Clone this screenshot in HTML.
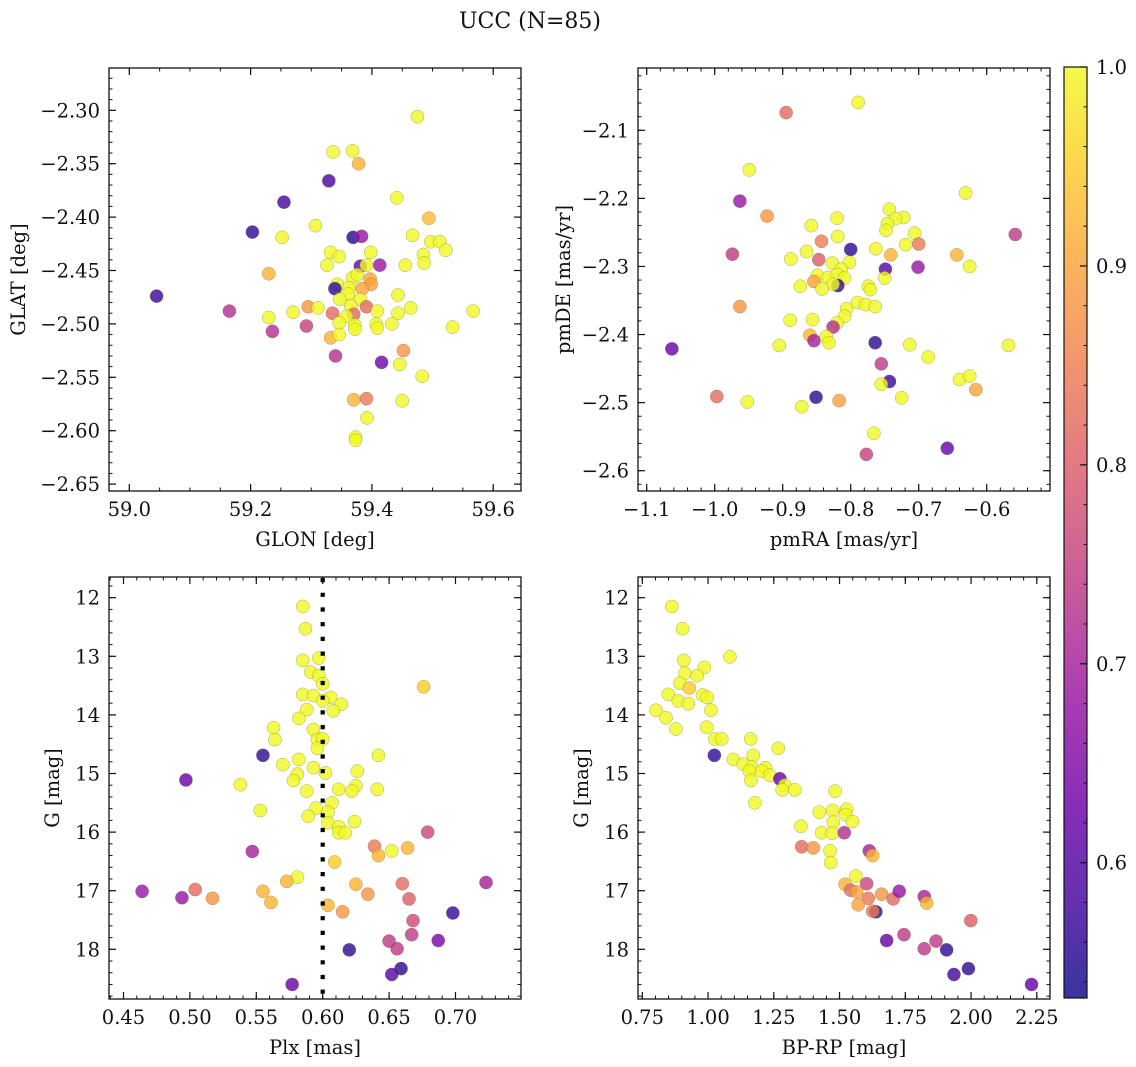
<!DOCTYPE html>
<html><head><meta charset="utf-8">
<style>
html,body{margin:0;padding:0;background:#fff;}
svg{display:block;font-family:"DejaVu Serif","Liberation Serif",serif;}
</style></head>
<body>
<svg id="fig" width="1136" height="1067" viewBox="0 0 1136 1067" xmlns="http://www.w3.org/2000/svg">
<defs>
<linearGradient id="plasmaGrad" x1="0" y1="1" x2="0" y2="0"></linearGradient>
</defs>
<text x="530" y="28" text-anchor="middle" font-size="22" fill="#111">UCC (N=85)</text>
</svg>
<script>
// ---- Panel 1: GLON vs GLAT ----
const p1Glon = [59.475,59.336,59.368,59.378,59.329,59.255,59.441,59.494,59.203,59.307,59.252,59.369,59.383,59.467,59.497,59.512,59.522,59.332,59.346,59.398,59.485,59.486,59.326,59.381,59.391,59.413,59.455,59.230,59.045,59.165,59.343,59.339,59.368,59.376,59.397,59.399,59.362,59.384,59.361,59.347,59.381,59.443,59.230,59.270,59.295,59.311,59.335,59.365,59.391,59.370,59.358,59.409,59.464,59.443,59.567,59.236,59.292,59.346,59.372,59.407,59.409,59.433,59.533,59.332,59.346,59.372,59.340,59.416,59.452,59.446,59.483,59.370,59.391,59.450,59.392,59.373,59.373];
const p1Glat = [-2.306,-2.339,-2.338,-2.350,-2.366,-2.386,-2.382,-2.401,-2.414,-2.408,-2.419,-2.419,-2.418,-2.417,-2.423,-2.423,-2.431,-2.433,-2.437,-2.433,-2.435,-2.443,-2.445,-2.446,-2.445,-2.445,-2.445,-2.453,-2.474,-2.488,-2.463,-2.467,-2.457,-2.454,-2.458,-2.463,-2.466,-2.467,-2.472,-2.477,-2.477,-2.473,-2.494,-2.489,-2.484,-2.485,-2.490,-2.483,-2.484,-2.491,-2.493,-2.488,-2.485,-2.490,-2.488,-2.507,-2.502,-2.499,-2.501,-2.500,-2.504,-2.500,-2.503,-2.513,-2.510,-2.505,-2.530,-2.536,-2.525,-2.538,-2.549,-2.571,-2.570,-2.572,-2.588,-2.606,-2.609];
const p1Prob = [1,1,1,0.92,0.58,0.58,1,0.93,0.56,1,1,0.55,0.68,1,1,1,1,1,1,1,1,1,1,0.62,1,0.68,1,0.92,0.57,0.72,1,0.56,1,1,0.9,0.9,1,0.9,1,1,1,1,1,1,0.88,1,0.82,1,0.82,0.82,1,1,1,1,1,0.72,0.75,1,1,1,1,1,1,0.92,1,1,0.72,0.63,0.88,1,1,0.92,0.84,1,1,1,1];
// ---- Panel 2: pmRA vs pmDE ----
const p2PmRA = [-0.789,-0.895,-0.949,-0.631,-0.963,-0.923,-0.743,-0.722,-0.734,-0.820,-0.858,-0.746,-0.748,-0.706,-0.558,-0.819,-0.843,-0.700,-0.719,-0.800,-0.763,-0.741,-0.644,-0.974,-0.865,-0.888,-0.847,-0.827,-0.802,-0.625,-0.749,-0.701,-0.849,-0.814,-0.854,-0.833,-0.820,-0.809,-0.819,-0.826,-0.750,-0.874,-0.842,-0.774,-0.771,-0.963,-0.790,-0.778,-0.764,-0.806,-0.809,-0.820,-0.826,-0.889,-0.856,-0.860,-0.854,-0.836,-0.832,-1.063,-0.905,-0.764,-0.713,-0.568,-0.686,-0.755,-0.640,-0.625,-0.743,-0.755,-0.616,-0.997,-0.851,-0.725,-0.952,-0.817,-0.872,-0.766,-0.777,-0.658];
const p2PmDE = [-2.059,-2.074,-2.158,-2.192,-2.204,-2.226,-2.216,-2.228,-2.230,-2.229,-2.240,-2.237,-2.247,-2.251,-2.253,-2.256,-2.263,-2.267,-2.268,-2.275,-2.274,-2.283,-2.283,-2.282,-2.278,-2.289,-2.290,-2.295,-2.294,-2.300,-2.304,-2.301,-2.313,-2.304,-2.322,-2.316,-2.312,-2.317,-2.328,-2.326,-2.317,-2.329,-2.333,-2.329,-2.334,-2.359,-2.353,-2.356,-2.359,-2.362,-2.373,-2.383,-2.389,-2.379,-2.378,-2.401,-2.409,-2.403,-2.412,-2.421,-2.416,-2.412,-2.415,-2.416,-2.433,-2.443,-2.466,-2.461,-2.469,-2.473,-2.481,-2.491,-2.492,-2.493,-2.499,-2.497,-2.506,-2.545,-2.576,-2.567];
const p2Prob = [1,0.82,1,1,0.68,0.88,1,1,1,1,1,1,1,1,0.74,1,0.85,0.84,1,0.56,1,0.92,0.92,0.74,1,1,0.8,1,1,1,0.6,0.68,1,1,0.9,1,1,1,0.56,1,1,1,1,1,1,0.88,1,1,1,1,1,1,0.72,1,1,0.92,0.7,1,1,0.62,1,0.56,1,1,1,0.74,1,1,0.57,1,0.9,0.82,0.56,1,1,0.9,1,1,0.75,0.62];
// ---- Panel 3: Plx vs G ----
const p3Plx = [0.585,0.587,0.585,0.597,0.591,0.597,0.600,0.676,0.585,0.593,0.606,0.600,0.614,0.608,0.588,0.582,0.563,0.564,0.593,0.596,0.600,0.596,0.555,0.642,0.497,0.538,0.570,0.582,0.593,0.602,0.581,0.578,0.626,0.625,0.622,0.612,0.641,0.588,0.553,0.607,0.595,0.604,0.589,0.604,0.624,0.612,0.612,0.617,0.679,0.547,0.639,0.642,0.652,0.664,0.609,0.581,0.573,0.464,0.494,0.504,0.517,0.555,0.561,0.625,0.634,0.660,0.723,0.665,0.604,0.615,0.698,0.668,0.667,0.687,0.650,0.656,0.620,0.659,0.652,0.577];
const p3G = [12.15,12.53,13.07,13.03,13.27,13.33,13.47,13.52,13.65,13.67,13.70,13.76,13.82,13.93,13.91,14.06,14.22,14.42,14.25,14.42,14.41,14.57,14.69,14.69,15.11,15.19,14.85,14.76,14.90,14.99,15.01,15.12,14.96,15.21,15.30,15.27,15.27,15.30,15.63,15.50,15.59,15.66,15.73,15.84,15.82,15.91,16.01,16.01,16.00,16.33,16.24,16.40,16.32,16.27,16.51,16.77,16.84,17.01,17.12,16.98,17.13,17.01,17.20,16.89,17.06,16.88,16.86,17.14,17.25,17.36,17.38,17.51,17.75,17.85,17.86,17.99,18.01,18.33,18.43,18.60];
const p3Prob = [1,1,1,1,1,1,1,0.95,1,1,1,1,1,1,1,1,1,1,1,1,1,1,0.56,1,0.62,1,1,1,1,1,1,1,1,1,1,1,1,1,1,1,1,1,1,1,1,1,1,1,0.76,0.7,0.84,0.92,1,0.92,0.95,1,0.92,0.68,0.68,0.82,0.88,0.92,0.92,0.92,0.88,0.82,0.7,0.8,0.92,0.88,0.57,0.77,0.74,0.64,0.74,0.74,0.56,0.56,0.6,0.62];
const p3PlxLine = 0.6;
// ---- Panel 4: BP-RP vs G ----
const p4BpRp = [0.862,0.903,1.083,0.908,0.986,0.912,0.959,0.893,0.929,0.849,0.979,0.997,0.887,0.925,0.802,1.011,0.840,0.878,0.995,1.026,1.052,1.162,1.267,1.024,1.172,1.096,1.134,1.166,1.219,1.157,1.204,1.235,1.273,1.163,1.292,1.282,1.330,1.178,1.483,1.527,1.423,1.474,1.523,1.549,1.476,1.353,1.432,1.472,1.518,1.356,1.400,1.464,1.466,1.613,1.626,1.562,1.521,1.542,1.565,1.603,1.660,1.609,1.704,1.727,1.571,1.638,1.626,1.822,1.831,1.999,1.679,1.745,1.822,1.867,1.907,1.935,1.990,2.230];
const p4G = [12.15,12.53,13.01,13.07,13.19,13.29,13.33,13.46,13.54,13.65,13.66,13.70,13.76,13.81,13.92,13.92,14.05,14.24,14.21,14.41,14.41,14.41,14.57,14.69,14.69,14.76,14.84,14.89,14.90,14.96,14.96,15.03,15.09,15.12,15.20,15.28,15.28,15.50,15.30,15.61,15.66,15.63,15.70,15.82,15.83,15.90,16.01,16.02,16.01,16.25,16.27,16.32,16.52,16.32,16.40,16.75,16.89,16.99,17.02,16.88,17.06,17.13,17.14,17.01,17.24,17.36,17.35,17.10,17.21,17.51,17.85,17.75,17.99,17.86,18.01,18.43,18.33,18.60];
const p4Prob = [1,1,1,1,1,1,1,1,0.95,1,1,1,1,1,1,1,1,1,1,1,1,1,1,0.56,1,1,1,1,1,1,1,1,0.62,1,1,1,1,1,1,1,1,1,1,1,1,1,1,1,0.72,0.82,0.88,1,1,0.7,0.92,1,0.92,0.82,0.9,0.76,0.88,0.84,0.82,0.68,0.9,0.56,0.84,0.7,0.92,0.8,0.62,0.74,0.74,0.74,0.56,0.58,0.56,0.62];
// ---- tick labels ----
const p1XTicks = [59.0,59.2,59.4,59.6];
const p1YTicks = [-2.30,-2.35,-2.40,-2.45,-2.50,-2.55,-2.60,-2.65];
const p2XTicks = [-1.1,-1.0,-0.9,-0.8,-0.7,-0.6];
const p2YTicks = [-2.1,-2.2,-2.3,-2.4,-2.5,-2.6];
const p3XTicks = [0.45,0.50,0.55,0.60,0.65,0.70];
const gTicks = [12,13,14,15,16,17,18];
const p4XTicks = [0.75,1.00,1.25,1.50,1.75,2.00,2.25];
const cbTicks = [0.6,0.7,0.8,0.9,1.0];
const cbMin = 0.532, cbMax = 1.0;

const FS = 19.5;
const NS = "http://www.w3.org/2000/svg";
const svg = document.getElementById('fig');
function mk(tag, attrs, parent){
  const e = document.createElementNS(NS, tag);
  for (const k in attrs) e.setAttribute(k, attrs[k]);
  (parent||svg).appendChild(e);
  return e;
}
const plasma = ["#0d0887","#41049d","#6a00a8","#8f0da4","#b12a90","#cc4778","#e16462","#f2844b","#fca636","#fcce25","#f0f921"];
function hex2rgb(h){return [parseInt(h.slice(1,3),16),parseInt(h.slice(3,5),16),parseInt(h.slice(5,7),16)];}
function cmap(v){
  let t = (v-cbMin)/(cbMax-cbMin); t = Math.max(0,Math.min(1,t));
  const s = t*10, i = Math.min(9, Math.floor(s)), f = s-i;
  const a = hex2rgb(plasma[i]), b = hex2rgb(plasma[i+1]);
  return "rgb("+a.map((c,k)=>Math.round(c+(b[k]-c)*f)).join(",")+")";
}
function fmt(v, d){ const s = Math.abs(v).toFixed(d); return (v<0?"\u2212":"")+s; }
function linear(d0, d1, r0, r1){ return v => r0 + (v-d0)*(r1-r0)/(d1-d0); }

function drawPanel(cfg){
  const g = mk('g', {});
  
  
  const {L,T,R,B} = cfg.box;
  const sx = cfg.sx, sy = cfg.sy;
  const pts = mk('g', {}, g);
  
  
  const n = Math.min(cfg.xs.length, cfg.ys.length, cfg.cs.length);
  for (let i=0;i<n;i++){
    const c = mk('circle', {cx: sx(cfg.xs[i]), cy: sy(cfg.ys[i]), r: 6.6, fill: cmap(cfg.cs[i]), 'fill-opacity': 0.8, stroke: '#6b6b40', 'stroke-width': 0.5, 'stroke-opacity': 0.55}, pts);
    
    
  }
  if (cfg.extra) cfg.extra(g);
  const fr = mk('rect', {x:L, y:T, width:R-L, height:B-T, fill:'none', stroke:'#111', 'stroke-width':1.3}, g);
  
  
  const tk = mk('g', {stroke:'#111'}, g);
  function xtick(v, len, w){
    const x = sx(v); if (x < L-0.5 || x > R+0.5) return;
    mk('line', {x1:x, x2:x, y1:B, y2:B-len, 'stroke-width':w}, tk);
    mk('line', {x1:x, x2:x, y1:T, y2:T+len, 'stroke-width':w}, tk);
  }
  function ytick(v, len, w){
    const y = sy(v); if (y < T-0.5 || y > B+0.5) return;
    mk('line', {y1:y, y2:y, x1:L, x2:L+len, 'stroke-width':w}, tk);
    mk('line', {y1:y, y2:y, x1:R, x2:R-len, 'stroke-width':w}, tk);
  }
  const xr = cfg.xDom, yr = cfg.yDom;
  for (let k=Math.ceil(xr[0]/cfg.xMinor-1e-6); k*cfg.xMinor<=xr[1]+1e-9; k++) xtick(k*cfg.xMinor, 3.5, 1);
  for (let k=Math.ceil(yr[0]/cfg.yMinor-1e-6); k*cfg.yMinor<=yr[1]+1e-9; k++) ytick(k*cfg.yMinor, 3.5, 1);
  cfg.xTicks.forEach(v=>{ xtick(v, 7, 1.2);
    const t = mk('text', {x:sx(v), y:B+25, 'text-anchor':'middle', 'font-size':FS, fill:'#111'}, g);
    t.textContent = fmt(v, cfg.xDec);
    
    
  });
  cfg.yTicks.forEach(v=>{ ytick(v, 7, 1.2);
    const t = mk('text', {x:L-9, y:sy(v)+7, 'text-anchor':'end', 'font-size':FS, fill:'#111'}, g);
    t.textContent = fmt(v, cfg.yDec);
    
    
  });
  const xl = mk('text', {x:(L+R)/2, y:B+55, 'text-anchor':'middle', 'font-size':FS, fill:'#111'}, g);
  xl.textContent = cfg.xLabel;
  
  
  const yl = mk('text', {x:0, y:0, 'text-anchor':'middle', 'font-size':FS, fill:'#111', transform:'translate('+cfg.yLabelX+','+((T+B)/2)+') rotate(-90)'}, g);
  yl.textContent = cfg.yLabel;
  
  
}

(function(){
  const box = {L:109,T:68,R:521,B:491};
  const sx = linear(59.0, 59.6, 129.3, 493.2);
  const sy = linear(-2.30, -2.65, 110.3, 484.1);
  drawPanel({name:'glon-glat-panel', box, sx, sy, xs:p1Glon, ys:p1Glat, cs:p1Prob,
    xDom:[59.0-(129.3-109)/606.5, 59.0+(521-129.3)/606.5], yDom:[-2.30-(491-110.3)/1068, -2.30+(110.3-68)/1068],
    xMinor:0.05, yMinor:0.01, xTicks:p1XTicks, yTicks:p1YTicks, xDec:1, yDec:2,
    xLabel:'GLON [deg]', yLabel:'GLAT [deg]', yLabelX:25});
})();
(function(){
  const box = {L:638,T:68,R:1050,B:491};
  const sx = linear(-1.1, -0.6, 646.7, 986.7);
  const sy = linear(-2.1, -2.6, 130.3, 470.7);
  drawPanel({name:'proper-motion-panel', box, sx, sy, xs:p2PmRA, ys:p2PmDE, cs:p2Prob,
    xDom:[-1.1-(646.7-638)/680, -1.1+(1050-646.7)/680], yDom:[-2.1-(491-130.3)/680.7, -2.1+(130.3-68)/680.7],
    xMinor:0.02, yMinor:0.02, xTicks:p2XTicks, yTicks:p2YTicks, xDec:1, yDec:1,
    xLabel:'pmRA [mas/yr]', yLabel:'pmDE [mas/yr]', yLabelX:570});
})();
(function(){
  const box = {L:109,T:577,R:521,B:999};
  const sx = linear(0.45, 0.70, 123.5, 455.5);
  const sy = linear(12, 18, 597.7, 949.3);
  drawPanel({name:'parallax-magnitude-panel', box, sx, sy, xs:p3Plx, ys:p3G, cs:p3Prob,
    xDom:[0.45-(123.5-109)/1328, 0.45+(521-123.5)/1328], yDom:[12-(597.7-577)/58.6, 12+(999-597.7)/58.6],
    xMinor:0.01, yMinor:0.2, xTicks:p3XTicks, yTicks:gTicks, xDec:2, yDec:0,
    xLabel:'Plx [mas]', yLabel:'G [mag]', yLabelX:59,
    extra: g => {
      const ln = mk('line', {x1:sx(p3PlxLine), x2:sx(p3PlxLine), y1:578, y2:998, stroke:'#000', 'stroke-width':4.2, 'stroke-dasharray':'4.2 10.5'}, g);
      
      
    }});
})();
(function(){
  const box = {L:638,T:577,R:1050,B:999};
  const sx = linear(0.75, 2.25, 642.3, 1036.8);
  const sy = linear(12, 18, 597.7, 949.3);
  drawPanel({name:'color-magnitude-panel', box, sx, sy, xs:p4BpRp, ys:p4G, cs:p4Prob,
    xDom:[0.75-(642.3-638)/263, 0.75+(1050-642.3)/263], yDom:[12-(597.7-577)/58.6, 12+(999-597.7)/58.6],
    xMinor:0.05, yMinor:0.2, xTicks:p4XTicks, yTicks:gTicks, xDec:2, yDec:0,
    xLabel:'BP-RP [mag]', yLabel:'G [mag]', yLabelX:588});
})();
(function(){
  const grad = document.getElementById('plasmaGrad');
  plasma.forEach((c,i)=>{ mk('stop', {offset:(i/10), 'stop-color':c}, grad); });
  const cb = mk('g', {});
  
  
  const L=1064, R=1087, T=67, B=998;
  const sy = linear(cbMin, cbMax, B, T);
  mk('rect', {x:L, y:T, width:R-L, height:B-T, fill:'url(#plasmaGrad)', 'fill-opacity':0.82}, cb);
  mk('rect', {x:L, y:T, width:R-L, height:B-T, fill:'none', stroke:'#111', 'stroke-width':1.2}, cb);
  for (let k=27; k<=50; k++){ const v=k*0.02; if (v<cbMin) continue; const y=sy(v);
    mk('line', {x1:R, x2:R-3.5, y1:y, y2:y, stroke:'#111', 'stroke-width':1}, cb); }
  cbTicks.forEach(v=>{ const y=sy(v);
    mk('line', {x1:R, x2:R-7, y1:y, y2:y, stroke:'#111', 'stroke-width':1.2}, cb);
    const t = mk('text', {x:R+9, y:y+7, 'font-size':FS, fill:'#111'}, cb);
    t.textContent = v.toFixed(1);
    
    
  });
})();
</script>
</body></html>
